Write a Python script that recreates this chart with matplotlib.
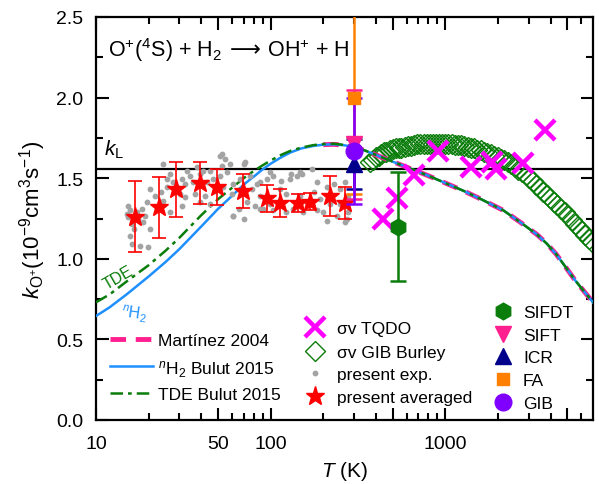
import matplotlib
matplotlib.use("Agg")
import matplotlib.pyplot as plt
from matplotlib.ticker import FixedLocator, FuncFormatter

plt.rcParams['font.family'] = ['Liberation Sans', 'DejaVu Sans']
plt.rcParams['mathtext.fontset'] = 'custom'
plt.rcParams['mathtext.rm'] = 'Liberation Sans'
plt.rcParams['mathtext.it'] = 'Liberation Sans:italic'
plt.rcParams['mathtext.bf'] = 'Liberation Sans:bold'
plt.rcParams['mathtext.sf'] = 'DejaVu Sans'

# ---------------- data ----------------
# Langevin capture rate (1e-9 cm^3 s^-1)
k_langevin = 1.56

# Bulut 2015, n-H2
nh2_T = [10, 12, 15, 20, 25, 30, 40, 50, 60, 70, 80, 90, 100, 115, 130, 150, 175,
         200, 230, 260, 300, 350, 400, 480, 580, 700, 820, 1000, 1280, 1600, 2150,
         2700, 3350, 3800, 4300, 4870, 5500, 6200, 7000]
nh2_k = [0.645, 0.70, 0.78, 0.89, 0.98, 1.06, 1.20, 1.31, 1.39, 1.46, 1.51, 1.555,
         1.59, 1.63, 1.66, 1.685, 1.70, 1.708, 1.71, 1.705, 1.695, 1.67, 1.645,
         1.61, 1.575, 1.54, 1.51, 1.47, 1.42, 1.37, 1.30, 1.225, 1.15, 1.095,
         1.03, 0.95, 0.87, 0.80, 0.73]

# Bulut 2015, TDE
tde_T = [10, 12, 15, 20, 25, 30, 40, 50, 60, 70, 80, 90, 100, 115, 130, 150, 175,
         200, 230, 260, 300, 350, 400, 480, 580, 700, 820, 1000, 1280, 1600, 2150,
         2700, 3350, 3800, 4300, 4870, 5500, 6200, 7000]
tde_k = [0.73, 0.78, 0.86, 0.96, 1.05, 1.13, 1.27, 1.37, 1.44, 1.50, 1.545, 1.58,
         1.61, 1.645, 1.67, 1.69, 1.705, 1.712, 1.714, 1.707, 1.695, 1.67, 1.645,
         1.61, 1.575, 1.54, 1.51, 1.47, 1.42, 1.37, 1.30, 1.225, 1.15, 1.095,
         1.03, 0.95, 0.87, 0.80, 0.73]

# Martinez 2004
mart_T = [200, 230, 260, 300, 350, 400, 480, 580, 700, 820, 1000, 1280, 1600, 2150,
          2700, 3350, 3800, 4300, 4870, 5500, 6200, 7000]
mart_k = [1.708, 1.71, 1.705, 1.695, 1.67, 1.645, 1.61, 1.575, 1.54, 1.51, 1.47,
          1.42, 1.37, 1.30, 1.225, 1.15, 1.095, 1.03, 0.95, 0.87, 0.80, 0.73]

# sigma*v from GIB cross sections (Burley)
burley_T = [370, 385, 400, 415, 430, 445, 460, 480, 500, 520, 540, 560, 585, 610,
            635, 660, 690, 720, 750, 780, 815, 850, 885, 920, 960, 1000, 1040, 1085,
            1130, 1180, 1230, 1280, 1340, 1400, 1460, 1520, 1590, 1660, 1740, 1820,
            1900, 1990, 2080, 2180, 2280, 2390, 2500, 2620, 2750, 2880, 3020, 3160,
            3310, 3470, 3640, 3810, 3990, 4180, 4380, 4590, 4810, 5040, 5280, 5530,
            5790, 6060, 6340, 6640, 6950]
burley_k = [1.60, 1.615, 1.63, 1.64, 1.65, 1.66, 1.665, 1.675, 1.68, 1.685, 1.69,
            1.69, 1.695, 1.70, 1.70, 1.705, 1.71, 1.71, 1.712, 1.714, 1.715, 1.715,
            1.715, 1.715, 1.715, 1.715, 1.713, 1.71, 1.708, 1.705, 1.703, 1.70,
            1.695, 1.69, 1.685, 1.678, 1.672, 1.665, 1.656, 1.648, 1.64, 1.63,
            1.622, 1.61, 1.60, 1.585, 1.57, 1.553, 1.537, 1.52, 1.50, 1.48, 1.46,
            1.44, 1.415, 1.395, 1.38, 1.355, 1.335, 1.31, 1.29, 1.265, 1.24, 1.215,
            1.19, 1.17, 1.15, 1.125, 1.105]

# sigma*v TQDO
tqdo_T = [440, 529, 664, 908, 1404, 1850, 1958, 2785, 3704]
tqdo_k = [1.25, 1.375, 1.52, 1.67, 1.572, 1.603, 1.557, 1.592, 1.80]

# present experiment: individual measurements
exp_T = [15.3, 15.7, 15.3, 16.0, 16.4, 15.7, 16.0, 17.9, 17.5, 17.1, 18.3, 15.0,
         19.5, 19.1, 20.4, 20.4, 21.8, 23.7, 24.3, 25.4, 25.4, 19.9, 18.6,
         26.5, 27.6, 31.0, 33.1, 32.4, 34.6, 30.3, 26.5, 31.0, 32.4, 29.0,
         37.8, 41.2, 36.1, 39.4, 45.0, 43.0, 47.0, 52.5, 54.8, 51.4, 53.6, 48.1,
         42.2, 39.4, 36.9, 45.0, 56.0, 52.5,
         61.2, 66.9, 71.4, 76.3, 78.0, 73.0, 65.5, 61.2, 69.9, 81.5, 59.9, 83.4,
         87.1, 95.0, 103.5, 115, 129, 141, 148, 90.6, 103.5, 123, 134, 153, 99.3,
         123, 148, 161, 87.1, 113,
         176, 185, 210, 229, 250, 267, 278, 185, 200, 239, 273, 278, 219, 250, 192,
         69.9, 172, 99, 131, 151, 61, 87, 210, 267, 51.4, 24.3, 58.6]
exp_k = [1.33, 1.30, 1.257, 1.216, 1.185, 1.143, 1.092, 1.081, 1.247, 1.288, 1.309,
         1.278,
         1.35, 1.267, 1.185, 1.433, 1.391, 1.412, 1.36, 1.495, 1.443, 1.071, 1.226,
         1.526, 1.474, 1.495, 1.547, 1.464, 1.516, 1.402, 1.288, 1.33, 1.381, 1.443,
         1.567, 1.547, 1.474, 1.526, 1.547, 1.474, 1.495, 1.65, 1.619, 1.516, 1.443,
         1.422, 1.391, 1.35, 1.402, 1.34, 1.536, 1.578,
         1.464, 1.495, 1.598, 1.516, 1.433, 1.35, 1.309, 1.267, 1.247, 1.33, 1.402,
         1.464,
         1.474, 1.495, 1.516, 1.485, 1.495, 1.516, 1.536, 1.309, 1.30, 1.288, 1.309,
         1.288, 1.34, 1.402, 1.391, 1.35, 1.391, 1.433,
         1.412, 1.474, 1.443, 1.464, 1.433, 1.474, 1.391, 1.30, 1.288, 1.267, 1.247,
         1.288, 1.34, 1.34, 1.371,
         1.588, 1.557, 1.536, 1.526, 1.526, 1.267, 1.309, 1.236, 1.226, 1.64, 1.588,
         1.588]

# present experiment: averaged values
avg_T = [16.7, 22.8, 28.7, 39.5, 49.2, 69.3, 95.0, 113, 144, 168, 219, 267]
avg_k = [1.26, 1.32, 1.43, 1.47, 1.445, 1.42, 1.375, 1.345, 1.345, 1.355, 1.39, 1.345]
avg_err = [0.22, 0.19, 0.17, 0.13, 0.11, 0.105, 0.085, 0.085, 0.055, 0.055, 0.125, 0.10]

# earlier measurements
sifdt_T, sifdt_k, sifdt_err = [535], [1.20], [0.34]
sift_T, sift_k, sift_err = [300], [1.71], [0.34]
icr_T, icr_k, icr_err = [300], [1.59], [0.155]
fa_T, fa_k, fa_err = [300], [2.00], [0.60]
gib_T, gib_k, gib_err = [300], [1.67], [0.33]

# ---------------- colours ----------------
c_pink = '#ff1f8f'
c_blue = '#1e8fff'
c_green = '#0a7d0a'
c_mag = '#ff00ff'
c_red = '#ff0000'
c_grey = '#a3a3a3'
c_navy = '#00008b'
c_orange = '#ff8000'
c_purple = '#8000ff'

fig = plt.figure(figsize=(5.99, 4.85), dpi=100)
ax = fig.add_axes([96 / 599, 1 - 421 / 485, 497 / 599, 403 / 485])
ax.set_xscale('log')
ax.set_xlim(10, 7000)
ax.set_ylim(0, 2.5)

ax.axhline(k_langevin, color='k', lw=1.6, zorder=1)

# sigma*v GIB Burley
ax.plot(burley_T, burley_k, ls='none', marker='D', ms=10, mfc='none',
        mec=c_green, mew=1.0, zorder=2)

# theory curves
ax.plot(mart_T, mart_k, color=c_pink, lw=3.5, dashes=(3.2, 2.0), zorder=3)
ax.plot(nh2_T, nh2_k, color=c_blue, lw=1.8, zorder=3)
ax.plot(tde_T, tde_k, color=c_green, lw=1.8, dashes=(5, 2, 1.5, 2), zorder=3)

# present experiment
ax.plot(exp_T, exp_k, ls='none', marker='o', ms=4.2, mfc=c_grey, mec='none',
        zorder=4)
ax.errorbar(avg_T, avg_k, yerr=avg_err, fmt='*', color=c_red, ms=14,
            elinewidth=1.2, capsize=4.7, capthick=1.2, zorder=5)

# TQDO
ax.plot(tqdo_T, tqdo_k, ls='none', marker='x', ms=14, mew=3.2, color=c_mag,
        zorder=6)

# earlier experiments
eb = dict(elinewidth=1.8, capsize=5.5, capthick=1.8, zorder=7)
ax.errorbar(sifdt_T, sifdt_k, yerr=sifdt_err, fmt='h', color=c_green, ms=12, **eb)
ax.errorbar(fa_T, fa_k, yerr=fa_err, fmt='s', color=c_orange, ms=9, **eb)
ax.errorbar(sift_T, sift_k, yerr=sift_err, fmt='v', color=c_pink, ms=11, **eb)
ax.errorbar(icr_T, icr_k, yerr=icr_err, fmt='^', color=c_navy, ms=11, **eb)
ax.errorbar(gib_T, gib_k, yerr=gib_err, fmt='o', color=c_purple, ms=12, **eb)

# ---------------- axes ----------------
ax.xaxis.set_major_locator(FixedLocator([10, 50, 100, 500, 1000, 5000]))
ax.xaxis.set_minor_locator(FixedLocator([20, 30, 40, 60, 70, 80, 90, 200, 300, 400,
                                         600, 700, 800, 900, 2000, 3000, 4000,
                                         6000]))
shown = {10: '10', 50: '50', 100: '100', 1000: '1000'}
ax.xaxis.set_major_formatter(FuncFormatter(lambda v, p: shown.get(int(round(v)), '')))
ax.xaxis.set_minor_formatter(FuncFormatter(lambda v, p: ''))
ax.yaxis.set_major_locator(FixedLocator([0, 0.5, 1.0, 1.5, 2.0, 2.5]))
ax.yaxis.set_minor_locator(FixedLocator([0.25, 0.75, 1.25, 1.75, 2.25]))
ax.yaxis.set_major_formatter(FuncFormatter(lambda v, p: f'{v:.1f}'))
ax.tick_params(which='both', direction='in', top=True, right=True, width=1.5,
               labelsize=14)
ax.tick_params(which='major', length=9)
ax.tick_params(which='minor', length=5)
ax.tick_params(axis='x', which='major', pad=11)
ax.tick_params(axis='y', which='major', pad=9)
for s in ax.spines.values():
    s.set_linewidth(1.6)

ax.set_xlabel(r'$T$ (K)', fontsize=15, labelpad=5)
ax.set_ylabel(r'$k_{\mathrm{O^{+}}}(10^{-9}\mathrm{cm^{3}s^{-1}})$', fontsize=16,
              labelpad=6)

# annotations
ax.text(0.024, 0.92,
        r'O$^{+}$($^{4}$S) + H$_{2}$$\;\mathsf{\longrightarrow}\,$OH$^{+}$ + H',
        transform=ax.transAxes, fontsize=15.5, va='center')
ax.text(11.1, 1.68, r'$k_{\mathrm{L}}$', fontsize=15, va='center')
ax.text(13.4, 0.885, 'TDE', color=c_green, fontsize=11.5, rotation=30,
        ha='center', va='center')
ax.text(16.6, 0.66, r'$^{n}$H$_{2}$', color=c_blue, fontsize=11.5, rotation=-8,
        ha='center', va='center')

# ---------------- legends (drawn in axes fraction) ----------------
T = ax.transAxes
fs = 12.5
# left block: curves
left_rows = [0.201, 0.134, 0.067]
ax.plot([0.028, 0.115], [left_rows[0]] * 2, transform=T, color=c_pink, lw=3.5,
        dashes=(3.2, 2.0), clip_on=False)
ax.plot([0.028, 0.115], [left_rows[1]] * 2, transform=T, color=c_blue, lw=1.8,
        clip_on=False)
ax.plot([0.028, 0.115], [left_rows[2]] * 2, transform=T, color=c_green, lw=1.8,
        dashes=(5, 2, 1.5, 2), clip_on=False)
for y, lab in zip(left_rows, ['Martínez 2004', r'$^{n}$H$_{2}$ Bulut 2015',
                              'TDE Bulut 2015']):
    ax.text(0.125, y, lab, transform=T, fontsize=fs, va='center_baseline')

# middle block
mid_rows = [0.231, 0.171, 0.117, 0.060]
mx, tx = 0.4406, 0.485
ax.plot([mx], [mid_rows[0]], transform=T, ls='none', marker='x', ms=14, mew=3.2,
        color=c_mag, clip_on=False)
ax.plot([mx], [mid_rows[1]], transform=T, ls='none', marker='D', ms=10, mfc='none',
        mec=c_green, mew=1.0, clip_on=False)
ax.plot([mx], [mid_rows[2]], transform=T, ls='none', marker='o', ms=4.2,
        mfc=c_grey, mec='none', clip_on=False)
ax.plot([mx], [mid_rows[3]], transform=T, ls='none', marker='*', ms=14,
        color=c_red, clip_on=False)
for y, lab in zip(mid_rows, ['σv TQDO', 'σv GIB Burley', 'present exp.',
                             'present averaged']):
    ax.text(tx, y, lab, transform=T, fontsize=fs, va='center_baseline')

# right block
right_rows = [0.2705, 0.2134, 0.1588, 0.1017, 0.0447]
rx, rtx = 0.8189, 0.859
specs = [('h', c_green, 12), ('v', c_pink, 11), ('^', c_navy, 11),
         ('s', c_orange, 9), ('o', c_purple, 12)]
for y, (m, c, s) in zip(right_rows, specs):
    ax.plot([rx], [y], transform=T, ls='none', marker=m, ms=s, color=c,
            clip_on=False)
for y, lab in zip(right_rows, ['SIFDT', 'SIFT', 'ICR', 'FA', 'GIB']):
    ax.text(rtx, y, lab, transform=T, fontsize=fs, va='center_baseline')

fig.savefig('out.png', dpi=100)
